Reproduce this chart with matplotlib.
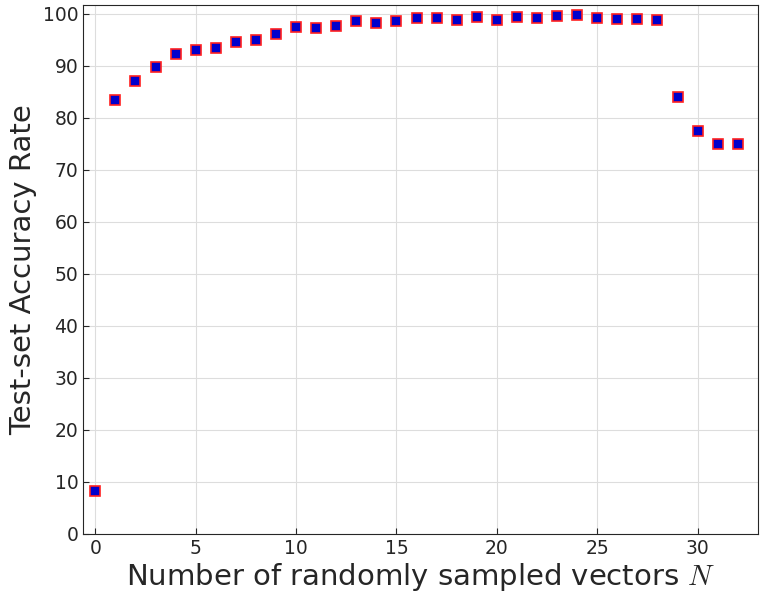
import matplotlib
matplotlib.use("Agg")
import matplotlib.pyplot as plt

N = list(range(33))
acc = [8.3, 83.5, 87.0, 89.8, 92.3, 93.0, 93.5, 94.6, 95.0, 96.1, 97.5, 97.3, 97.7,
       98.5, 98.3, 98.5, 99.1, 99.1, 98.8, 99.4, 98.8, 99.4, 99.2, 99.5, 99.7, 99.2,
       99.0, 99.0, 98.8, 84.0, 77.4, 75.0, 75.0]

plt.rcParams['mathtext.fontset'] = 'cm'
fig = plt.figure(figsize=(7.64, 6.06), dpi=100)
ax = fig.add_axes([0.109, 0.119, 0.883, 0.873])
ax.plot(N, acc, linestyle='none', marker='s', markersize=7.5,
        markerfacecolor='#0000cc', markeredgecolor='#ff2020', markeredgewidth=1.2)
ax.set_xlim(-0.6, 33)
ax.set_ylim(0, 101.7)
ax.set_xticks(range(0, 31, 5))
ax.set_yticks(range(0, 101, 10))
ax.grid(True, color='#dddddd', linewidth=0.8)
ax.set_axisbelow(True)
ax.tick_params(labelsize=13.5, colors='#262626', direction='in', length=4)
for s in ax.spines.values():
    s.set_color('#262626')
ax.set_xlabel('Number of randomly sampled vectors $N$', fontsize=21, color='#262626', labelpad=2)
ax.set_ylabel('Test-set Accuracy Rate', fontsize=21, color='#262626', labelpad=4)
fig.savefig('out.png', dpi=100)
